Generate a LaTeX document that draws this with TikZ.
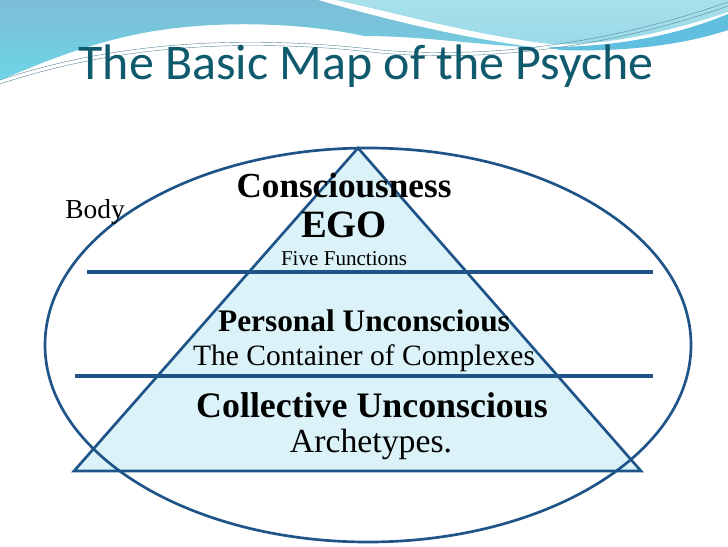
\documentclass[tikz,border=0pt]{standalone}
\usepackage{fontspec}
\setmainfont{Liberation Serif}
\newfontfamily\titlefont{Carlito}
\usetikzlibrary{positioning}
\definecolor{psyline}{RGB}{30,84,136}
\definecolor{psyfill}{RGB}{218,242,248}
\definecolor{psytitle}{RGB}{16,90,110}
\definecolor{wavedark}{RGB}{125,188,214}
\definecolor{wavecyan}{RGB}{108,214,230}
\definecolor{wavelight}{RGB}{168,224,234}
\definecolor{wavemid}{RGB}{96,190,222}

\begin{document}
\begin{tikzpicture}[
  x=0.025cm, y=-0.025cm,
  layer/.style={draw=psyline, line width=2.6pt},
  outline/.style={draw=psyline, line width=1.9pt},
  head/.style={font=\bfseries\fontsize{25}{28}\selectfont, anchor=base},
  sub/.style={font=\fontsize{21}{24}\selectfont, anchor=base},
  thinwave/.style={draw=psytitle!70, line width=0.3pt}
]
\useasboundingbox (0,0) rectangle (728,546);
\fill[white] (0,0) rectangle (728,546);

% slide background waves
\shade[top color=wavedark, bottom color=wavecyan]
  (0,0) -- (318,0) .. controls (380,18) and (460,38) .. (540,48)
  .. controls (470,44) and (420,36) .. (364,36)
  .. controls (300,22) and (200,18) .. (120,38)
  .. controls (70,50) and (30,68) .. (0,80) -- cycle;
\shade[top color=wavelight, bottom color=wavelight!80!wavemid]
  (336,0) -- (728,0) -- (728,12) .. controls (660,35) and (600,46) .. (550,44)
  .. controls (470,34) and (400,14) .. (336,0) -- cycle;
\fill[wavemid]
  (548,47) .. controls (620,47) and (680,34) .. (728,14) -- (728,30)
  .. controls (680,46) and (620,52) .. (560,50) -- cycle;
\draw[thinwave] (0,80) .. controls (120,40) and (250,35) .. (380,50)
  .. controls (500,60) and (620,40) .. (728,2);
\draw[thinwave] (0,84) .. controls (120,44) and (250,38) .. (380,53)
  .. controls (500,63) and (620,44) .. (728,6);

\node[font=\titlefont\fontsize{35.5}{40}\selectfont, text=psytitle, anchor=base]
  (title) at (366,79) {The Basic Map of the Psyche};

% psyche map
\coordinate (apex) at (358,148);
\coordinate (baseL) at (74,471);
\coordinate (baseR) at (641,471);
\fill[psyfill] (apex) -- (baseL) -- (baseR) -- cycle;
\draw[outline] (368,345) ellipse [x radius=323, y radius=197];
\draw[outline, line join=miter] (apex) -- (baseL) -- (baseR) -- cycle;

\coordinate (egoL) at (87,272);
\coordinate (egoR) at (653,272);
\coordinate (perL) at (75,376);
\coordinate (perR) at (653,376);
\draw[layer] (egoL) -- (egoR);
\draw[layer] (perL) -- (perR);

\node[font=\fontsize{19.5}{22}\selectfont, anchor=base] (body) at (95,218) {Body};
\node[head] (consc) at (344,197) {Consciousness};
\node[head, font=\bfseries\fontsize{27.5}{30}\selectfont] (ego) at (344,237) {EGO};
\node[font=\fontsize{15}{17}\selectfont, anchor=base] (fivefn) at (344,265) {Five Functions};
\node[head, font=\bfseries\fontsize{22.3}{25}\selectfont] (personal) at (364,331) {Personal Unconscious};
\node[sub] (container) at (364,365) {The Container of Complexes};
\node[head, font=\bfseries\fontsize{25.5}{28}\selectfont] (collective) at (372,417) {Collective Unconscious};
\node[sub, font=\fontsize{24}{27}\selectfont] (archetypes) at (371,452) {Archetypes.};
\end{tikzpicture}
\end{document}
